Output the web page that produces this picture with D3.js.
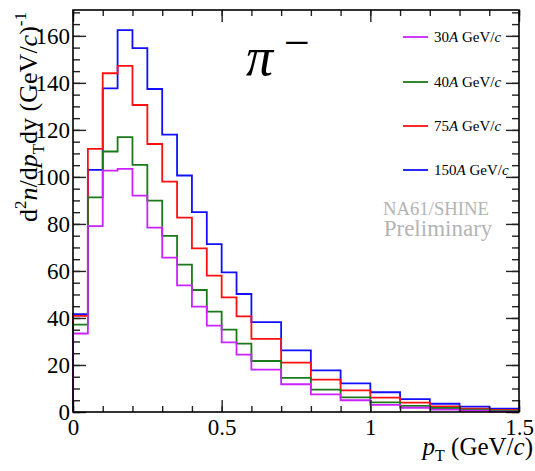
<!DOCTYPE html>
<html>
<head>
<meta charset="utf-8">
<script src="https://cdn.jsdelivr.net/npm/d3@7"></script>
<style>
  body { margin: 0; background: #fff; }
  svg { display: block; }
  text { font-family: "Liberation Serif", "DejaVu Serif", serif; }
</style>
</head>
<body>
<svg id="chart" width="535" height="471"></svg>
<script>
// Bin edges in pT (GeV/c): 0.05 wide up to 0.6, then 0.1 wide up to 1.5
const binEdges = [0, 0.05, 0.1, 0.15, 0.2, 0.25, 0.3, 0.35, 0.4, 0.45, 0.5, 0.55, 0.6,
                  0.7, 0.8, 0.9, 1.0, 1.1, 1.2, 1.3, 1.4, 1.5];

// d2n/dpT dy for pi- at each beam momentum
const values30 = [33.4, 79.1, 102.7, 103.4, 92.0, 78.4, 65.7, 53.9, 44.8, 36.7, 29.6, 24.4,
                  18.0, 11.8, 7.5, 5.0, 3.0, 1.8, 1.0, 0.6, 0.2];
const values40 = [37.2, 91.3, 110.8, 116.9, 105.1, 89.9, 74.9, 62.7, 51.9, 42.7, 35.0, 29.1,
                  21.7, 14.5, 9.5, 6.2, 4.1, 2.6, 1.7, 1.0, 0.6];
const values75 = [40.9, 111.9, 144.1, 147.2, 130.6, 114.0, 98.0, 82.7, 69.6, 58.0, 48.8, 40.7,
                  31.1, 21.0, 13.8, 9.2, 6.1, 4.0, 2.4, 1.4, 0.9];
const values150 = [41.6, 103.0, 137.7, 162.4, 154.8, 137.4, 118.0, 100.6, 85.0, 71.4, 59.4, 50.2,
                   38.2, 26.2, 17.7, 12.2, 8.4, 5.5, 3.5, 2.3, 1.4];

const seriesLabels = ["30", "40", "75", "150"];
const seriesColors = ["#cc22ff", "#1a7a1a", "#ff1010", "#1010ff"];
const seriesValues = [values30, values40, values75, values150];

const xMajorTicks = [0, 0.5, 1, 1.5];
const xTickLabels = ["0", "0.5", "1", "1.5"];
const yMajorTicks = [0, 20, 40, 60, 80, 100, 120, 140, 160];

const W = 535, H = 471;
const margin = { left: 73, right: 16, top: 10, bottom: 59 };
const svg = d3.select("#chart");
const serif = '"Liberation Serif", "DejaVu Serif", serif';

const x = d3.scaleLinear().domain([0, 1.5]).range([margin.left, W - margin.right]);
const y = d3.scaleLinear().domain([0, 171]).range([H - margin.bottom, margin.top]);

const xMinor = d3.range(0, 1.5001, 0.1).map(v => +v.toFixed(2));
const yMinor = d3.range(0, 171, 5);

// Histograms, drawn as step outlines that start and end on the baseline
const line = d3.line().x(d => x(d[0])).y(d => y(d[1]));
function stepPoints(vals) {
  const pts = [[binEdges[0], 0]];
  vals.forEach((v, i) => { pts.push([binEdges[i], v]); pts.push([binEdges[i + 1], v]); });
  pts.push([binEdges[binEdges.length - 1], 0]);
  return pts;
}
const order = [3, 2, 1, 0];
const gHist = svg.append("g");
order.forEach(i => {
  gHist.append("path")
    .attr("d", line(stepPoints(seriesValues[i])))
    .attr("fill", "none")
    .attr("stroke", seriesColors[i])
    .attr("stroke-width", 1.8);
});

// Axes: ticks point into the frame, on all four sides
function styleAxis(g) {
  g.attr("font-family", serif);
  g.select(".domain").remove();
  g.selectAll(".tick line").attr("stroke", "#222").attr("stroke-width", 1.4);
  g.selectAll("text").attr("font-size", 23).attr("fill", "#000")
    .attr("font-family", serif).style("font-family", serif);
}
const bottomY = H - margin.bottom, topY = margin.top;
const leftX = margin.left, rightX = W - margin.right;

svg.append("g").attr("transform", `translate(0,${bottomY})`)
  .call(d3.axisBottom(x).tickValues(xMinor).tickSizeInner(-6).tickSizeOuter(0).tickFormat(""))
  .call(styleAxis);
svg.append("g").attr("transform", `translate(0,${bottomY})`)
  .call(d3.axisBottom(x).tickValues(xMajorTicks).tickSizeInner(-12).tickSizeOuter(0)
        .tickPadding(7).tickFormat((d, i) => xTickLabels[i]))
  .call(styleAxis);
svg.append("g").attr("transform", `translate(0,${topY})`)
  .call(d3.axisTop(x).tickValues(xMinor).tickSizeInner(-6).tickSizeOuter(0).tickFormat(""))
  .call(styleAxis);
svg.append("g").attr("transform", `translate(0,${topY})`)
  .call(d3.axisTop(x).tickValues(xMajorTicks).tickSizeInner(-12).tickSizeOuter(0).tickFormat(""))
  .call(styleAxis);

svg.append("g").attr("transform", `translate(${leftX},0)`)
  .call(d3.axisLeft(y).tickValues(yMinor).tickSizeInner(-7).tickSizeOuter(0).tickFormat(""))
  .call(styleAxis);
svg.append("g").attr("transform", `translate(${leftX},0)`)
  .call(d3.axisLeft(y).tickValues(yMajorTicks).tickSizeInner(-13).tickSizeOuter(0)
        .tickPadding(3).tickFormat(d3.format("d")))
  .call(styleAxis);
svg.append("g").attr("transform", `translate(${rightX},0)`)
  .call(d3.axisRight(y).tickValues(yMinor).tickSizeInner(-7).tickSizeOuter(0).tickFormat(""))
  .call(styleAxis);
svg.append("g").attr("transform", `translate(${rightX},0)`)
  .call(d3.axisRight(y).tickValues(yMajorTicks).tickSizeInner(-13).tickSizeOuter(0).tickFormat(""))
  .call(styleAxis);

// Frame
svg.append("rect")
  .attr("x", leftX).attr("y", topY)
  .attr("width", rightX - leftX).attr("height", bottomY - topY)
  .attr("fill", "none").attr("stroke", "#000").attr("stroke-width", 1.6);

// Axis titles
const xt = svg.append("text")
  .attr("x", 533).attr("y", 455)
  .attr("text-anchor", "end").attr("font-size", 25);
xt.append("tspan").attr("font-style", "italic").text("p");
xt.append("tspan").attr("font-size", 16).attr("dy", 6).text("T");
xt.append("tspan").attr("dy", -6).text(" (GeV/");
xt.append("tspan").attr("font-style", "italic").text("c");
xt.append("tspan").text(")");

const yt = svg.append("text")
  .attr("transform", "translate(37,12) rotate(-90)")
  .attr("text-anchor", "end").attr("font-size", 26);
yt.append("tspan").text("d");
yt.append("tspan").attr("font-size", 17).attr("dy", -11).text("2");
yt.append("tspan").attr("dy", 11).attr("font-style", "italic").text("n");
yt.append("tspan").text("/d");
yt.append("tspan").attr("font-style", "italic").text("p");
yt.append("tspan").attr("font-size", 17).attr("dy", 7).text("T");
yt.append("tspan").attr("dy", -7).text("d");
yt.append("tspan").text("y (GeV/");
yt.append("tspan").attr("font-style", "italic").text("c");
yt.append("tspan").text(")");
yt.append("tspan").attr("font-size", 17).attr("dy", -11).text("-1");

// Particle label
svg.append("text").attr("x", 246).attr("y", 75).attr("font-size", 54)
  .attr("font-style", "italic").text("π");
svg.append("text").attr("x", 284).attr("y", 58).attr("font-size", 46).text("−");

// Collaboration label
svg.append("text").attr("x", 436).attr("y", 215).attr("text-anchor", "middle")
  .attr("font-size", 19).attr("fill", "#b4b4b4")
  .attr("textLength", 106).attr("lengthAdjust", "spacingAndGlyphs").text("NA61/SHINE");
svg.append("text").attr("x", 438).attr("y", 236).attr("text-anchor", "middle")
  .attr("font-size", 23).attr("fill", "#b4b4b4").text("Preliminary");

// Legend
const legendY = [37, 82, 126, 170];
const lg = svg.append("g");
seriesLabels.forEach((lab, i) => {
  lg.append("line").attr("x1", 403).attr("x2", 428)
    .attr("y1", legendY[i]).attr("y2", legendY[i])
    .attr("stroke", seriesColors[i]).attr("stroke-width", 1.8);
  const t = lg.append("text").attr("x", 434).attr("y", legendY[i] + 5).attr("font-size", 15);
  t.append("tspan").text(lab);
  t.append("tspan").attr("font-style", "italic").text("A");
  t.append("tspan").text(" GeV/");
  t.append("tspan").attr("font-style", "italic").text("c");
});
</script>
</body>
</html>
